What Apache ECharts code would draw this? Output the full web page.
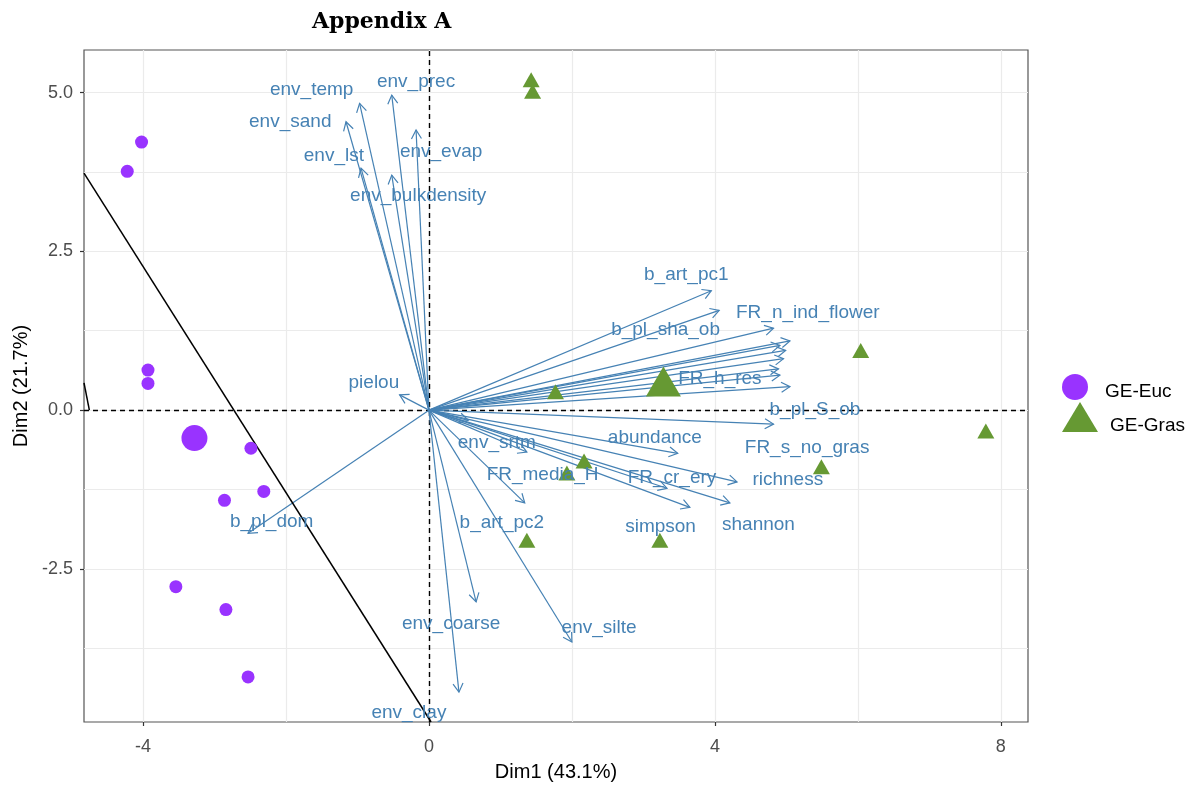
<!DOCTYPE html>
<html>
<head>
<meta charset="utf-8">
<title>Appendix A</title>
<script src="https://cdn.jsdelivr.net/npm/echarts@6/dist/echarts.min.js"></script>
<style>
  html, body { margin: 0; padding: 0; background: #fff; }
  #chart { width: 1193px; height: 789px; }
</style>
</head>
<body>
<div id="chart"></div>
<script>
// PCA biplot: individuals grouped by habitat, variables drawn as loading arrows.

// Axis ticks
const xTicks = [-4, 0, 4, 8];
const xMinor = [-2, 2, 6];
const yTicks = [-2.5, 0, 2.5, 5];
const yMinor = [-3.75, -1.25, 1.25, 3.75];

// Individuals: GE-Euc
const eucX = [-4.02, -4.22, -3.93, -3.93, -2.49, -2.31, -2.86, -3.54, -2.84, -2.53];
const eucY = [4.22, 3.76, 0.63, 0.42, -0.60, -1.28, -1.42, -2.78, -3.14, -4.20];
const eucMean = [-3.28, -0.44];

// Individuals: GE-Gras
const grasX = [1.43, 1.45, 6.04, 7.79, 5.49, 1.77, 1.93, 2.17, 1.37, 3.23];
const grasY = [5.20, 5.02, 0.94, -0.33, -0.89, 0.29, -0.99, -0.80, -2.05, -2.05];
const grasMean = [3.28, 0.45];

// Variables (arrow tips); an empty name means the label was not drawn
const varNames = [
  'env_temp', 'env_prec', 'env_sand', 'env_evap', 'env_lst', 'env_bulkdensity',
  'b_art_pc1', 'b_pl_sha_ob', 'FR_n_ind_flower', '', '', '', '', '',
  'FR_h_res', 'b_pl_S_ob', 'FR_s_no_gras',
  'abundance', 'FR_cr_ery', 'simpson', 'richness', 'shannon',
  'env_srtm', 'FR_media_H', 'b_art_pc2',
  'env_coarse', 'env_silte', 'env_clay', 'pielou', 'b_pl_dom'
];
const varX = [
  -0.97, -0.52, -1.16, -0.18, -0.95, -0.52,
  3.95, 4.06, 4.82, 5.05, 4.91, 4.99, 4.96, 4.89,
  4.91, 5.05, 4.82,
  3.48, 3.33, 3.65, 4.31, 4.21,
  0.55, 1.37, 1.34,
  0.66, 2.00, 0.42, -0.41, -2.53
];
const varY = [
  4.83, 4.96, 4.54, 4.41, 3.81, 3.70,
  1.88, 1.57, 1.29, 1.09, 1.02, 0.94, 0.81, 0.65,
  0.55, 0.37, -0.22,
  -0.68, -1.23, -1.53, -1.13, -1.46,
  -0.16, -0.66, -1.46,
  -3.02, -3.65, -4.44, 0.24, -1.94
];
// Repelled label anchors for the variable names
const labelX = [
  -1.64, -0.18, -1.94, 0.17, -1.33, -0.15,
  3.60, 3.31, 5.30, null, null, null, null, null,
  4.07, 5.40, 5.29,
  3.16, 3.40, 3.24, 5.02, 4.61,
  0.95, 1.59, 1.02,
  0.31, 2.38, -0.28, -0.77, -2.20
];
const labelY = [
  5.04, 5.17, 4.54, 4.06, 4.00, 3.37,
  2.13, 1.26, 1.53, null, null, null, null, null,
  0.50, 0.00, -0.60,
  -0.44, -1.06, -1.84, -1.09, -1.81,
  -0.52, -1.02, -1.78,
  -3.37, -3.43, -4.76, 0.43, -1.75
];

// Separating lines
const sepLineA = [[-4.825, 3.73], [0.03, -4.91]];
const sepLineB = [[-4.825, 0.43], [-4.75, 0.0]];

const ARROW = '#4682B4';
const PURPLE = '#9933FF';
const GREEN = '#669933';
const GRID = '#EBEBEB';
const SANS = 'Liberation Sans, Arial, sans-serif';

const chart = echarts.init(document.getElementById('chart'), null, { renderer: 'canvas' });

const gridLineSeries = {
  type: 'line', data: [], silent: true, z: 0,
  markLine: {
    z: 0, silent: true, symbol: 'none', label: { show: false },
    lineStyle: { color: GRID, type: 'solid', width: 1.2 },
    emphasis: { disabled: true },
    data: [
      ...xTicks.concat(xMinor).map(v => ({ xAxis: v })),
      ...yTicks.concat(yMinor).map(v => ({ yAxis: v }))
    ]
  }
};

const zeroLineSeries = {
  type: 'line', data: [], silent: true, z: 3,
  markLine: {
    z: 3, silent: true, symbol: 'none', label: { show: false },
    lineStyle: { color: '#000', type: [5, 4], width: 1.4 },
    emphasis: { disabled: true },
    data: [{ xAxis: 0 }, { yAxis: 0 }]
  }
};

const arrowSeries = {
  type: 'custom', silent: true, z: 4,
  data: varX.map((x, i) => [x, varY[i]]),
  renderItem: function (params, api) {
    const o = api.coord([0, 0]);
    const t = api.coord([api.value(0), api.value(1)]);
    const a = Math.atan2(t[1] - o[1], t[0] - o[0]);
    const L = 10, h = Math.PI / 6;
    const p1 = [t[0] - L * Math.cos(a - h), t[1] - L * Math.sin(a - h)];
    const p2 = [t[0] - L * Math.cos(a + h), t[1] - L * Math.sin(a + h)];
    const st = { stroke: ARROW, lineWidth: 1.2, fill: null };
    return {
      type: 'group',
      children: [
        { type: 'line', shape: { x1: o[0], y1: o[1], x2: t[0], y2: t[1] }, style: st },
        { type: 'polyline', shape: { points: [p1, t, p2] }, style: st }
      ]
    };
  }
};

const labelData = [];
varNames.forEach((n, i) => {
  if (n && labelX[i] !== null) labelData.push([labelX[i], labelY[i], n]);
});
const labelSeries = {
  type: 'scatter', silent: true, z: 6,
  symbolSize: 0,
  itemStyle: { opacity: 1 },
  data: labelData,
  label: {
    show: true, position: 'inside',
    formatter: p => p.data[2],
    color: ARROW, opacity: 1, textBorderWidth: 0,
    fontSize: 19, fontFamily: SANS
  }
};

const eucSeries = {
  name: 'GE-Euc', type: 'scatter', z: 5, symbol: 'circle', symbolSize: 13,
  itemStyle: { color: PURPLE, opacity: 1 },
  data: eucX.map((x, i) => [x, eucY[i]]).concat([{ value: eucMean, symbolSize: 26 }])
};
const grasSeries = {
  name: 'GE-Gras', type: 'scatter', z: 5, symbol: 'triangle', symbolSize: [17, 15],
  itemStyle: { color: GREEN, opacity: 1 },
  data: grasX.map((x, i) => [x, grasY[i]]).concat([{ value: grasMean, symbolSize: [35, 30] }])
};

const sepSeriesA = {
  type: 'line', silent: true, z: 4, symbol: 'none', data: sepLineA,
  lineStyle: { color: '#000', width: 1.5 }
};
const sepSeriesB = {
  type: 'line', silent: true, z: 4, symbol: 'none', data: sepLineB,
  lineStyle: { color: '#000', width: 1.5 }
};

const tickFont = { color: '#4D4D4D', fontSize: 18, fontFamily: SANS };

function legendText(padTop, padLeft) {
  return {
    fontSize: 19, color: '#000', fontFamily: SANS,
    rich: { t: { fontSize: 19, color: '#000', fontFamily: SANS, padding: [padTop, 0, 0, padLeft] } }
  };
}

chart.setOption({
  animation: false,
  backgroundColor: '#fff',
  title: {
    text: 'Appendix A', left: 312, top: 11, padding: 0,
    textStyle: { fontFamily: 'DejaVu Serif', fontWeight: 'bold', fontSize: 22, color: '#000' }
  },
  legend: [
    {
      data: [{ name: 'GE-Euc', icon: 'circle' }], selectedMode: false,
      left: 1062, top: 374, padding: 0, itemWidth: 36, itemHeight: 26,
      formatter: '{t|{name}}',
      textStyle: legendText(10, 7)
    },
    {
      data: [{ name: 'GE-Gras', icon: 'triangle' }], selectedMode: false,
      left: 1062, top: 402, padding: 0, itemWidth: 36, itemHeight: 30,
      formatter: '{t|{name}}',
      textStyle: legendText(18, 7)
    }
  ],
  grid: {
    left: 84, right: 165, top: 50, bottom: 67,
    show: true, borderColor: '#555', borderWidth: 1.2, backgroundColor: '#fff'
  },
  xAxis: {
    type: 'value', min: -4.825, max: 8.38,
    name: 'Dim1 (43.1%)', nameLocation: 'middle', nameGap: 40,
    nameTextStyle: { fontSize: 20, color: '#000', fontFamily: SANS },
    axisLine: { show: false, onZero: false },
    splitLine: { show: false },
    axisTick: { show: true, length: 4, customValues: xTicks, lineStyle: { color: '#333', width: 1.2 } },
    axisLabel: Object.assign({ margin: 16, customValues: xTicks, formatter: v => String(v) }, tickFont)
  },
  yAxis: {
    type: 'value', min: -4.91, max: 5.67,
    name: 'Dim2 (21.7%)', nameLocation: 'middle', nameGap: 47, nameRotate: 90,
    nameTextStyle: { fontSize: 20, color: '#000', fontFamily: SANS },
    axisLine: { show: false, onZero: false },
    splitLine: { show: false },
    axisTick: { show: true, length: 4, customValues: yTicks, lineStyle: { color: '#333', width: 1.2 } },
    axisLabel: Object.assign({ margin: 11, customValues: yTicks, formatter: v => Number(v).toFixed(1) }, tickFont)
  },
  series: [gridLineSeries, zeroLineSeries, sepSeriesA, sepSeriesB, arrowSeries, eucSeries, grasSeries, labelSeries]
});
</script>
</body>
</html>
